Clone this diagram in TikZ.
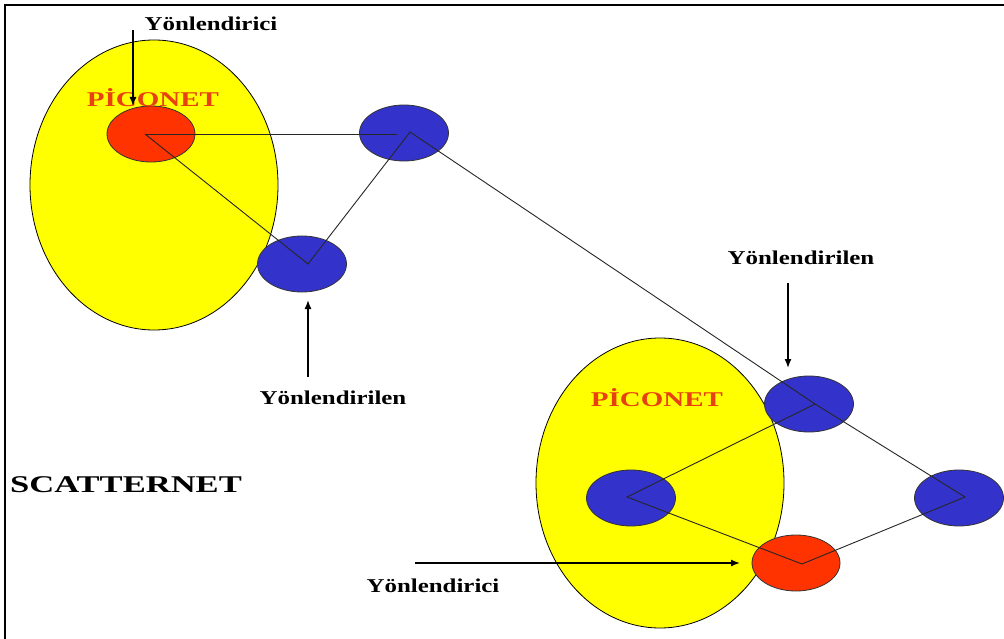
\documentclass[tikz,border=0pt]{standalone}
\usepackage{fontspec}
\usepackage{graphicx}
\setmainfont{Liberation Serif}
\usetikzlibrary{shapes.geometric,arrows.meta}
\definecolor{piyellow}{RGB}{255,255,0}
\definecolor{pired}{RGB}{255,51,0}
\definecolor{piblue}{RGB}{51,51,204}
\definecolor{pitext}{RGB}{232,64,16}
\newcommand{\wx}[2]{\scalebox{#1}[1]{#2}}
\begin{document}
\begin{tikzpicture}[x=1pt,y=-1pt,
  zone/.style={ellipse,draw=black,line width=0.8pt,fill=piyellow,minimum width=248pt,minimum height=290pt,inner sep=0pt},
  routernode/.style={ellipse,draw=black!80,line width=0.8pt,fill=pired,minimum width=88pt,minimum height=56pt,inner sep=0pt},
  hostnode/.style={ellipse,draw=black!80,line width=0.8pt,fill=piblue,minimum width=89pt,minimum height=56pt,inner sep=0pt},
  link/.style={draw=black!85,line width=0.9pt},
  pointer/.style={-{Latex[length=9pt,width=7pt]},line width=1.4pt},
  lbl/.style={font=\bfseries\fontsize{19.6}{20}\selectfont,inner sep=0pt,anchor=base},
  pico/.style={font=\bfseries\fontsize{21}{22}\selectfont,text=pitext,inner sep=0pt,anchor=base},
  title/.style={font=\bfseries\fontsize{24}{25}\selectfont,inner sep=0pt,anchor=base}]
\useasboundingbox (0,0) rectangle (1004,639);
\fill[white] (0,0) rectangle (1004,639);
\draw[line width=2pt] (5,639) -- (5,5) -- (1004,5);

% piconet zones
\node[zone] (z1) at (154,185) {};
\node[zone] (z2) at (660,483) {};

% devices
\node[routernode] (r1) at (151,134) {};
\node[hostnode] (t1) at (404,133) {};
\node[hostnode] (m1) at (302,264) {};
\node[hostnode] (a2) at (809,404) {};
\node[hostnode] (b2) at (631,498) {};
\node[hostnode] (c2) at (959,498) {};
\node[routernode] (d2) at (796,563) {};

% link vertices
\coordinate (r1v) at (145,134);
\coordinate (t1e) at (397,134);
\coordinate (t1v) at (410,132);
\coordinate (m1v) at (308,264);
\coordinate (a2v) at (815,404);
\coordinate (b2v) at (627,497);
\coordinate (c2v) at (965,497);
\coordinate (d2v) at (802,564);

\draw[link] (r1v) -- (t1e);
\draw[link] (r1v) -- (m1v) -- (t1v) -- (a2v) -- (c2v);
\draw[link] (a2v) -- (b2v) -- (d2v) -- (c2v);

% labels
\node[pico] (p1) at (153,107) {\wx{1.38}{PİCONET}};
\node[pico] (p2) at (657,406) {\wx{1.38}{PİCONET}};
\node[title] (sc) at (126,492) {\wx{1.44}{SCATTERNET}};
\node[lbl] (y1) at (211,31) {\wx{1.27}{Yönlendirici}};
\node[lbl] (y2) at (333,404) {\wx{1.27}{Yönlendirilen}};
\node[lbl] (y3) at (801,264) {\wx{1.27}{Yönlendirilen}};
\node[lbl] (y4) at (433,592) {\wx{1.27}{Yönlendirici}};

% pointers
\coordinate (q1s) at (133,30);
\coordinate (q1e) at (133,106);
\coordinate (q2s) at (308,377);
\coordinate (q2e) at (308,300);
\coordinate (q3s) at (788,283);
\coordinate (q3e) at (788,368);
\coordinate (q4s) at (415,563);
\coordinate (q4e) at (740,563);
\draw[pointer] (q1s) -- (q1e);
\draw[pointer] (q2s) -- (q2e);
\draw[pointer] (q3s) -- (q3e);
\draw[pointer] (q4s) -- (q4e);
\end{tikzpicture}
\end{document}
